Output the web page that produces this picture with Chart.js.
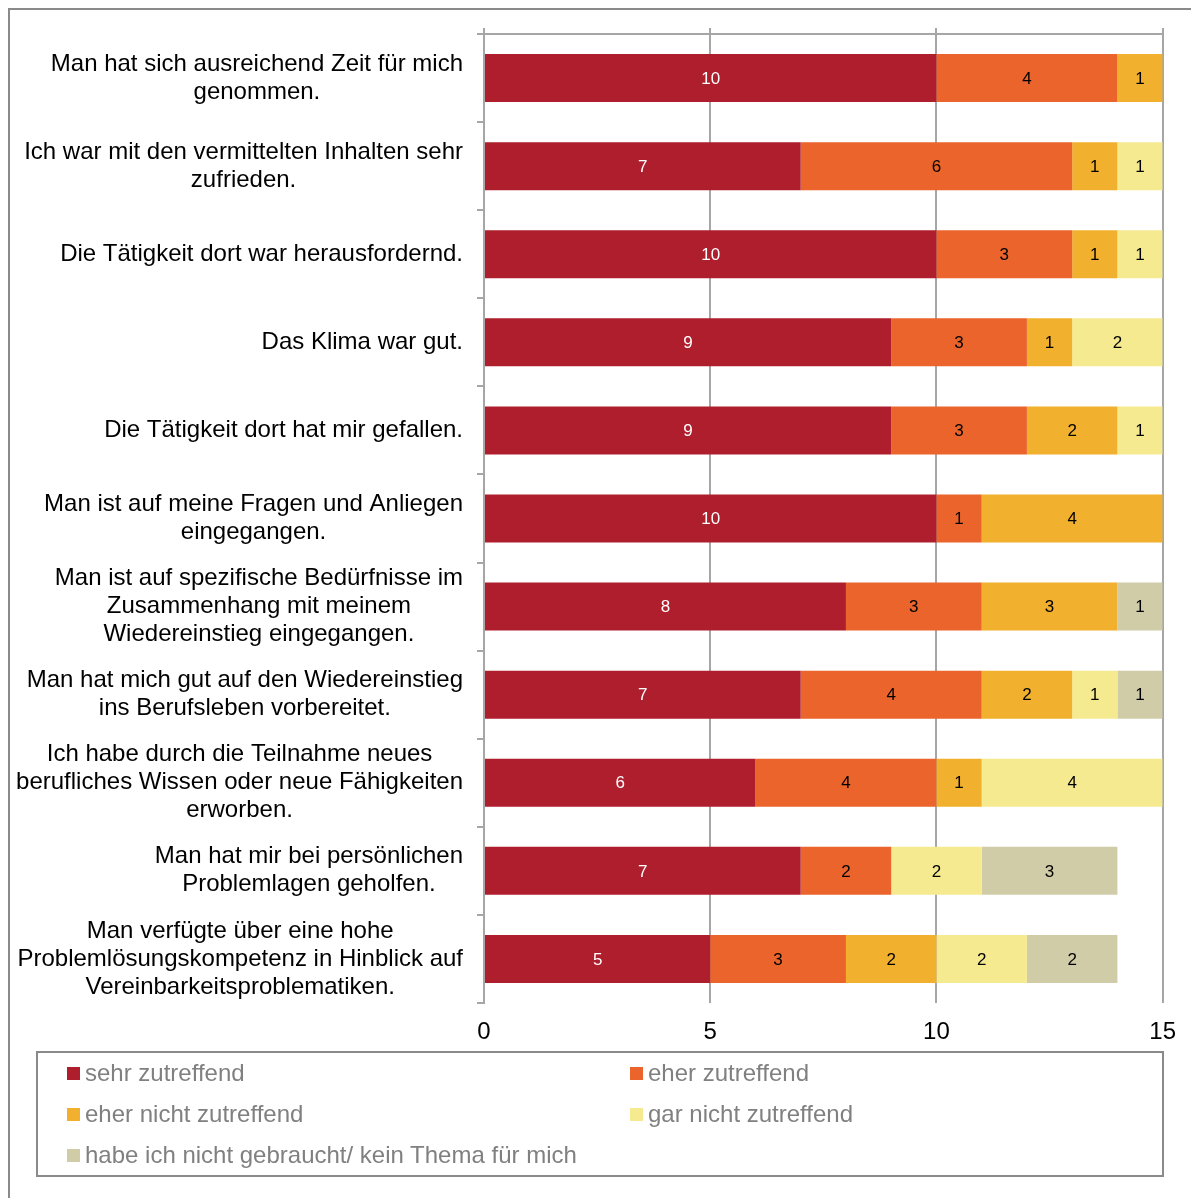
<!DOCTYPE html>
<html>
<head>
<meta charset="utf-8">
<script src="https://cdn.jsdelivr.net/npm/chart.js@4.4.1/dist/chart.umd.min.js"></script>
<style>
  html, body { margin: 0; padding: 0; background: #fff; width: 1191px; height: 1198px; overflow: hidden;
    font-family: "Liberation Sans", Arial, sans-serif; }
  #frame { position: absolute; left: 8px; top: 8px; width: 1210px; height: 1210px;
    border: 2px solid #8a8a8a; box-sizing: border-box; }
  #chartBox { position: absolute; left: 0; top: 0; width: 1191px; height: 1198px; }
  #legend { position: absolute; left: 36px; top: 1051px; width: 1128px; height: 126px;
    border: 2px solid #8a8a8a; box-sizing: border-box; }
  .item { position: absolute; display: flex; align-items: center; font-size: 24px; line-height: 28px;
    color: #808080; white-space: nowrap; }
  .sw { width: 13px; height: 13px; margin-right: 5px; }
</style>
</head>
<body>
<div id="frame"></div>
<div id="chartBox"><canvas id="c" width="1191" height="1198"></canvas></div>
<div id="legend"></div>
<script>
// Statements (each entry split into its display lines)
const categories = [
  ["Man hat sich ausreichend Zeit für mich", "genommen."],
  ["Ich war mit den vermittelten Inhalten sehr", "zufrieden."],
  ["Die Tätigkeit dort war herausfordernd."],
  ["Das Klima war gut."],
  ["Die Tätigkeit dort hat mir gefallen."],
  ["Man ist auf meine Fragen und Anliegen", "eingegangen."],
  ["Man ist auf spezifische Bedürfnisse im", "Zusammenhang mit meinem", "Wiedereinstieg eingegangen."],
  ["Man hat mich gut auf den Wiedereinstieg", "ins Berufsleben vorbereitet."],
  ["Ich habe durch die Teilnahme neues", "berufliches Wissen oder neue Fähigkeiten", "erworben."],
  ["Man hat mir bei persönlichen", "Problemlagen geholfen."],
  ["Man verfügte über eine hohe", "Problemlösungskompetenz in Hinblick auf", "Vereinbarkeitsproblematiken."]
];

// Answer options
const seriesNames = [
  "sehr zutreffend",
  "eher zutreffend",
  "eher nicht zutreffend",
  "gar nicht zutreffend",
  "habe ich nicht gebraucht/ kein Thema für mich"
];

// Number of answers per option
const sehrZutreffend      = [10, 7, 10, 9, 9, 10, 8, 7, 6, 7, 5];
const eherZutreffend      = [4, 6, 3, 3, 3, 1, 3, 4, 4, 2, 3];
const eherNichtZutreffend = [1, 1, 1, 1, 2, 4, 3, 2, 1, 0, 2];
const garNichtZutreffend  = [0, 1, 1, 2, 1, 0, 0, 1, 4, 2, 2];
const keinThema           = [0, 0, 0, 0, 0, 0, 1, 1, 0, 3, 2];

// Value axis
const xMin = 0, xMax = 15, xStep = 5;

const colors = ["#AF1E2D", "#EA642B", "#F1B02D", "#F6EA90", "#D0CCA8"];
const seriesValues = [sehrZutreffend, eherZutreffend, eherNichtZutreffend, garNichtZutreffend, keinThema];

const FONT = '"Liberation Sans", Arial, sans-serif';
const GRID = "#a6a6a6";

// Category labels: block right-aligned next to the axis, lines centred within the block
const categoryLabels = {
  id: "categoryLabels",
  afterDraw(chart) {
    const { ctx, chartArea, scales: { y } } = chart;
    ctx.save();
    ctx.font = "24px " + FONT;
    ctx.fillStyle = "#000";
    ctx.textAlign = "center";
    ctx.textBaseline = "middle";
    const right = chartArea.left - 21;
    const lh = 28;
    chart.data.labels.forEach((lines, i) => {
      const yc = y.getPixelForValue(i);
      const w = Math.max(...lines.map(l => ctx.measureText(l).width));
      const cx = right - w / 2;
      lines.forEach((l, k) => ctx.fillText(l, cx, yc + (k - (lines.length - 1) / 2) * lh));
    });
    ctx.restore();
  }
};

// Value labels centred in each segment
const segmentLabels = {
  id: "segmentLabels",
  afterDatasetsDraw(chart) {
    const { ctx } = chart;
    ctx.save();
    ctx.font = "17px " + FONT;
    ctx.textAlign = "center";
    ctx.textBaseline = "middle";
    chart.data.datasets.forEach((ds, di) => {
      const meta = chart.getDatasetMeta(di);
      meta.data.forEach((bar, i) => {
        const v = ds.data[i];
        if (!v) return;
        ctx.fillStyle = di === 0 ? "#ffffff" : "#000000";
        ctx.fillText(String(v), (bar.x + bar.base) / 2, bar.y + 1);
      });
    });
    ctx.restore();
  }
};

const chart = new Chart(document.getElementById("c"), {
  type: "bar",
  data: {
    labels: categories,
    datasets: seriesNames.map((name, i) => ({
      label: name,
      data: seriesValues[i],
      backgroundColor: colors[i],
      borderWidth: 0,
      categoryPercentage: 1,
      barPercentage: 0.545
    }))
  },
  options: {
    indexAxis: "y",
    responsive: false,
    animation: false,
    devicePixelRatio: 1,
    layout: { padding: { top: 28, right: 28, bottom: 145, left: 0 } },
    plugins: { legend: { display: false }, tooltip: { enabled: false } },
    scales: {
      x: {
        type: "linear",
        position: "bottom",
        stacked: true,
        min: xMin,
        max: xMax,
        ticks: { stepSize: xStep, color: "#000", font: { size: 24, family: FONT }, padding: 15 },
        grid: { color: GRID, lineWidth: 2, drawTicks: false },
        border: { display: false },
        afterFit: s => { s.height = 50; }
      },
      // unlabelled mirror of the value axis: edge line along the top plus short tick marks
      xTop: {
        type: "linear",
        position: "top",
        min: xMin,
        max: xMax,
        ticks: { display: false, stepSize: xStep },
        grid: { drawOnChartArea: false, tickLength: 6, color: GRID, lineWidth: 2 },
        border: { color: GRID, width: 2 },
        afterFit: s => { s.height = 6; }
      },
      y: {
        stacked: true,
        ticks: { display: false },
        grid: { drawOnChartArea: false, tickLength: 7, color: GRID, lineWidth: 2, offset: true },
        border: { color: GRID, width: 2 },
        afterFit: s => { s.width = 484; }
      }
    }
  },
  plugins: [segmentLabels, categoryLabels]
});

// Legend in two columns, built from the chart's datasets
const legend = document.getElementById("legend");
chart.data.datasets.forEach((ds, i) => {
  const col = i % 2, row = Math.floor(i / 2);
  const item = document.createElement("div");
  item.className = "item";
  item.style.left = (col === 0 ? 29 : 592) + "px";
  item.style.top = (6 + row * 41) + "px";
  const sw = document.createElement("span");
  sw.className = "sw";
  sw.style.background = ds.backgroundColor;
  const tx = document.createElement("span");
  tx.textContent = ds.label;
  item.appendChild(sw);
  item.appendChild(tx);
  legend.appendChild(item);
});
</script>
</body>
</html>
